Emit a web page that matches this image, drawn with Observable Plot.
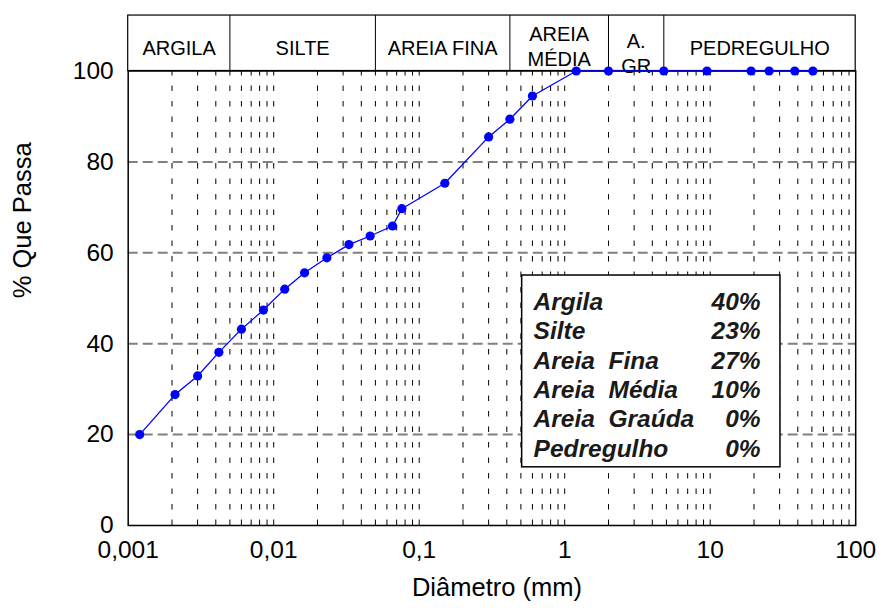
<!DOCTYPE html>
<html><head><meta charset="utf-8">
<script src="https://cdn.jsdelivr.net/npm/d3@7"></script>
<script src="https://cdn.jsdelivr.net/npm/@observablehq/plot@0.6"></script>
<style>
body{margin:0;background:#fff;}
#chart svg text{white-space:pre;}
</style></head><body><div id="chart"></div>
<script>
// Grain-size curve data (diameter in mm, % passing)
const diameters = [50.8, 38.1, 25.4, 19.1, 9.5, 4.8, 2.0, 1.2, 0.6, 0.42, 0.3, 0.15, 0.076, 0.0656, 0.046, 0.0329, 0.0232, 0.0163, 0.0119, 0.0085, 0.0060, 0.0042, 0.0030, 0.0021, 0.0012];
const passing   = [100, 100, 100, 100, 100, 100, 100, 100, 94.5, 89.4, 85.5, 75.3, 69.7, 65.9, 63.7, 61.8, 58.9, 55.6, 52.0, 47.4, 43.2, 38.1, 32.9, 28.8, 20.0];

// Soil fraction band (ABNT limits, mm)
const bandNames  = ["ARGILA", "SILTE", "AREIA FINA", "AREIA\nMÉDIA", "A.\nGR", "PEDREGULHO"];
const bandLimits = [0.001, 0.005, 0.05, 0.42, 2.0, 4.8, 100];

// Summary box
const summaryLabels = ["Argila", "Silte", "Areia  Fina", "Areia  Média", "Areia  Graúda", "Pedregulho"];
const summaryValues = ["40%", "23%", "27%", "10%", "0%", "0%"];

// Axes
const xTicks = [0.001, 0.01, 0.1, 1, 10, 100];
const yTicks = [0, 20, 40, 60, 80, 100];
const xTitle = "Diâmetro (mm)";
const yTitle = "% Que Passa";

const points = diameters.map((d, i) => ({d, p: passing[i]}));
const bands = bandNames.map((name, i) => ({name, lo: bandLimits[i], hi: bandLimits[i + 1]}));

// minor log grid lines (2..9 per decade + decades)
const gridX = [];
for (let e = -3; e <= 1; e++) for (let k = 1; k <= 9; k++) { const v = k * Math.pow(10, e); if (v > 0.001 && v < 100) gridX.push(v); }
const gridY = yTicks.filter(v => v > 0 && v < 100);

const BAND_TOP = 112.2;      // top of the fraction band, in % units
const BOX = {x1: 0.51, x2: 30.4, y1: 12.8, y2: 55};
const ROW0 = 49.1, ROWSTEP = 6.45;
const TXT_LEFT = 0.611, TXT_RIGHT = 22.2;

const chart = Plot.plot({
  width: 880, height: 610,
  marginLeft: 127.7, marginRight: 24.8, marginTop: 70.5, marginBottom: 85,
  style: {fontFamily: "'Liberation Sans', Arial, sans-serif", fontSize: "24.5px", color: "black", background: "white"},
  x: {type: "log", domain: [0.001, 100], ticks: xTicks, tickFormat: d => String(d).replace(".", ","), tickSize: 0, tickPadding: 15, label: null},
  y: {domain: [0, 100], ticks: yTicks, tickSize: 0, tickPadding: 14.5, label: null},
  marks: [
    Plot.ruleX(gridX, {y1: 0, y2: 100, stroke: "black", strokeWidth: 1, strokeDasharray: "5.5,10"}),
    Plot.ruleY(gridY, {stroke: "#808080", strokeWidth: 2, strokeDasharray: "10,5"}),
    Plot.rect([0], {x1: BOX.x1, x2: BOX.x2, y1: BOX.y1, y2: BOX.y2, fill: "white", stroke: "black", strokeWidth: 1.5}),
    Plot.text(summaryLabels, {x: TXT_LEFT, y: (d, i) => ROW0 - i * ROWSTEP, text: d => d, textAnchor: "start", fontSize: 24.5, fontWeight: "bold", fontStyle: "italic", fill: "#1a1a1a"}),
    Plot.text(summaryValues, {x: TXT_RIGHT, y: (d, i) => ROW0 - i * ROWSTEP, text: d => d, textAnchor: "end", fontSize: 24.5, fontWeight: "bold", fontStyle: "italic", fill: "#1a1a1a"}),
    // fraction band
    Plot.rect([0], {x1: bandLimits[0], x2: bandLimits[bandLimits.length - 1], y1: 100, y2: BAND_TOP, fill: "none", stroke: "black", strokeWidth: 1.2}),
    Plot.ruleX(bandLimits.slice(1, -1), {y1: 100, y2: BAND_TOP, stroke: "black", strokeWidth: 1}),
    Plot.text(bands, {filter: d => !d.name.includes("\n"), x: d => Math.sqrt(d.lo * d.hi), y: 100, text: "name", dy: -22.5, fontSize: 20}),
    Plot.text(bands, {filter: d => d.name === "AREIA\nMÉDIA", x: d => Math.sqrt(d.lo * d.hi), y: 100, text: "name", dy: -26, fontSize: 20, lineHeight: 1.25}),
    Plot.text(bands, {filter: d => d.name === "A.\nGR", x: d => Math.sqrt(d.lo * d.hi), y: 100, text: "name", dy: -19, fontSize: 20, lineHeight: 1.25}),
    Plot.frame({stroke: "black", strokeWidth: 1.5}),
    // data
    Plot.line(points, {x: "d", y: "p", stroke: "#0000ff", strokeWidth: 1.3}),
    Plot.dot(points, {x: "d", y: "p", r: 4.6, fill: "#0000ff", stroke: "none"}),
    // axis titles
    Plot.text([yTitle], {frameAnchor: "left", dx: -105, rotate: -90, fontSize: 25.5}),
    Plot.text([xTitle], {frameAnchor: "bottom", dy: 70, dx: 5, fontSize: 25.5})
  ]
});
document.getElementById("chart").appendChild(chart);
</script>
</body></html>
